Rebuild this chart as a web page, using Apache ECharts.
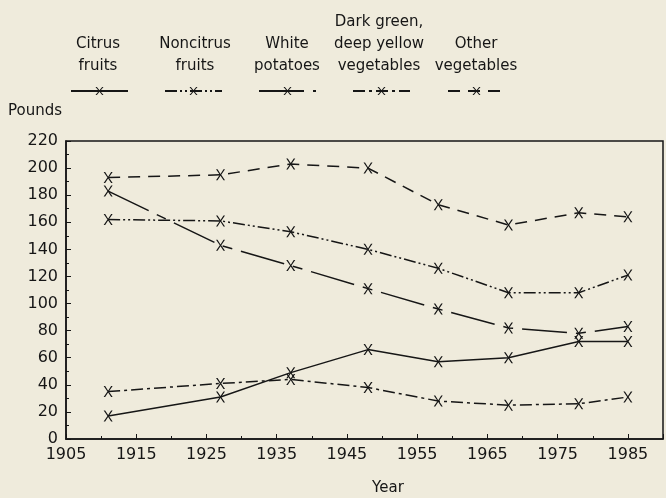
<!DOCTYPE html>
<html lang="en" style="height: 100%">
<head>
  <meta charset="utf-8">
</head>
<body style="height: 100%; margin: 0; background: #efebdc">
  <div id="container" style="width: 666px; height: 498px"></div>

  <script type="text/javascript" src="https://cdn.jsdelivr.net/npm/echarts@6/dist/echarts.min.js"></script>

  <script type="text/javascript">
    var dom = document.getElementById('container');
    var myChart = echarts.init(dom, null, { renderer: 'canvas' });

    // data
    var years = [1911, 1927, 1937, 1948, 1958, 1968, 1978, 1985];
    var citrus = [17, 31, 49, 66, 57, 60, 72, 72];
    var noncitrus = [162, 161, 153, 140, 126, 108, 108, 121];
    var potatoes = [183, 143, 128, 111, 96, 82, 78, 83];
    var darkGreen = [35, 41, 44, 38, 28, 25, 26, 31];
    var otherVeg = [193, 195, 203, 200, 173, 158, 167, 164];

    var seriesNames = ['Citrus fruits', 'Noncitrus fruits', 'White potatoes',
      'Dark green, deep yellow vegetables', 'Other vegetables'];
    var legendLabels = ['Citrus\nfruits', 'Noncitrus\nfruits', 'White\npotatoes',
      'Dark green,\ndeep yellow\nvegetables', 'Other\nvegetables'];
    var dashes = ['solid', [12, 3, 2, 3, 2, 3], [45, 9, 10, 9], [12, 4, 3, 4], [12, 8]];
    var values = [citrus, noncitrus, potatoes, darkGreen, otherVeg];

    var ink = '#161616';
    var font = 'DejaVu Sans';
    var cross = 'path://M0,0 L1.7,0 L5,5 L8.3,0 L10,0 L5.8,6 L10,12 L8.3,12 L5,7 L1.7,12 L0,12 L4.2,6 Z';

    function pairs(vals) {
      return years.map(function (y, i) { return [y, vals[i]]; });
    }

    var series = seriesNames.map(function (name, i) {
      return {
        name: name,
        type: 'line',
        data: pairs(values[i]),
        symbol: cross,
        symbolSize: [9, 11],
        itemStyle: { color: ink },
        lineStyle: { color: ink, width: 1.5, type: dashes[i] },
        animation: false
      };
    });

    // legend samples: one legend per series, placed under its label
    var legendLeft = [70, 164, 258, 352, 447];
    var labelCenter = [98, 195, 287, 379, 476];
    var legends = seriesNames.map(function (name, i) {
      return {
        data: [name],
        left: legendLeft[i],
        top: 86,
        padding: 0,
        itemWidth: 57,
        itemHeight: 10,
        selectedMode: false,
        formatter: function () { return ''; }
      };
    });

    var titles = legendLabels.map(function (t, i) {
      var lines = t.split('\n').length;
      return {
        text: t,
        left: labelCenter[i],
        top: lines === 3 ? 11 : 33,
        textAlign: 'center',
        padding: 0,
        textStyle: { fontFamily: font, fontSize: 15, fontWeight: 'normal', color: ink, lineHeight: 22 }
      };
    });
    titles.push({
      text: 'Pounds', left: 8, top: 104, padding: 0,
      textStyle: { fontFamily: font, fontSize: 15, fontWeight: 'normal', color: ink }
    });
    titles.push({
      text: 'Year', left: 388, top: 481, padding: 0, textAlign: 'center',
      textStyle: { fontFamily: font, fontSize: 15, fontWeight: 'normal', color: ink }
    });

    var option = {
      backgroundColor: '#efebdc',
      animation: false,
      title: titles,
      legend: legends,
      grid: {
        left: 66, right: 3, top: 141, bottom: 59,
        show: true, borderColor: ink, borderWidth: 1.5, backgroundColor: 'transparent'
      },
      xAxis: {
        type: 'value',
        min: 1905,
        max: 1990,
        interval: 10,
        splitLine: { show: false },
        axisLine: { lineStyle: { color: ink, width: 1.5 } },
        axisTick: { inside: true, length: 5, lineStyle: { color: ink } },
        minorTick: { show: true, splitNumber: 2, length: 3, lineStyle: { color: ink } },
        axisLabel: {
          showMaxLabel: false, color: ink, fontFamily: font, fontSize: 16, margin: 8,
          formatter: function (v) { return String(v); }
        }
      },
      yAxis: {
        type: 'value',
        min: 0,
        max: 220,
        interval: 20,
        splitLine: { show: false },
        axisLine: { show: true, lineStyle: { color: ink, width: 1.5 } },
        axisTick: { show: true, inside: true, length: 5, lineStyle: { color: ink } },
        minorTick: { show: true, splitNumber: 2, length: 3, lineStyle: { color: ink } },
        axisLabel: { color: ink, fontFamily: font, fontSize: 16, margin: 8 }
      },
      series: series
    };

    myChart.setOption(option);
  </script>
</body>
</html>
